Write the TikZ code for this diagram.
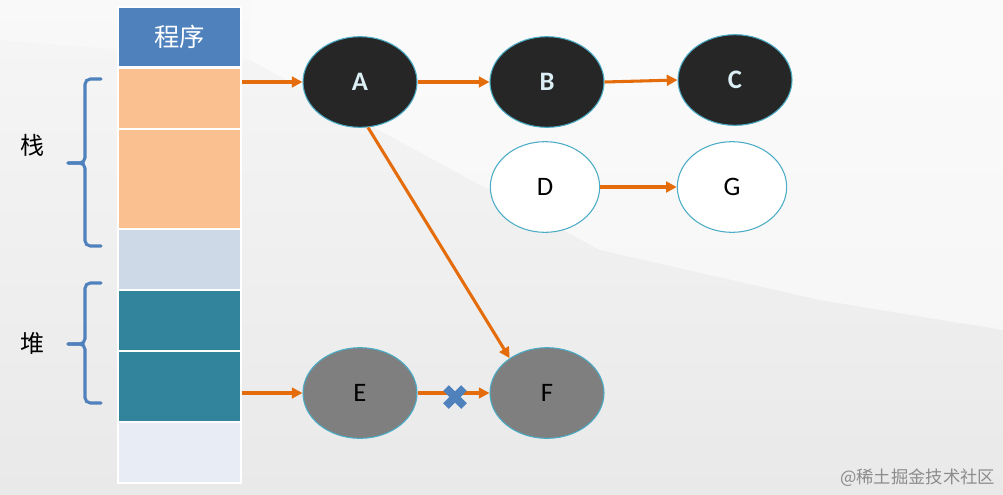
\documentclass[tikz,border=0pt]{standalone}
\usepackage{fontspec}
\setmainfont{Carlito}
\newfontfamily\cjk{Noto Sans CJK SC}
\usetikzlibrary{shapes.geometric,arrows.meta,calc}
\definecolor{progblue}{HTML}{4F81BD}
\definecolor{stackor}{HTML}{FAC090}
\definecolor{lightbl}{HTML}{CED9E7}
\definecolor{heapteal}{HTML}{31849B}
\definecolor{paleblue}{HTML}{E8ECF4}
\definecolor{arrowor}{HTML}{E46C0A}
\definecolor{edgeteal}{HTML}{4BACC6}
\definecolor{darkfill}{HTML}{262626}
\definecolor{grayfill}{HTML}{7F7F7F}
\definecolor{lighttxt}{HTML}{DCEFF5}
\definecolor{bgTop}{HTML}{F6F6F6}
\definecolor{bgBot}{HTML}{E9E9E9}
\tikzset{
  cell/.style={draw=white, line width=0.8pt, minimum width=92.25pt, inner sep=0pt, rectangle},
  obj/.style={ellipse, draw=edgeteal, line width=0.8pt, minimum width=85.5pt, minimum height=68pt, inner sep=0pt, font=\fontsize{20}{22}\selectfont},
  live/.style={obj, fill=darkfill, text=lighttxt, font=\fontsize{20}{22}\selectfont\bfseries},
  free/.style={obj, fill=white, text=black},
  dead/.style={obj, fill=grayfill, text=black},
  arr/.style={draw=arrowor, line width=2.3pt, -{Triangle[length=8pt,width=8pt]}},
  bracket/.style={draw=progblue, line width=2.3pt, rounded corners=4pt, line cap=round},
  crossline/.style={draw=progblue, line width=6pt},
  sidelabel/.style={font=\cjk\fontsize{18}{20}\selectfont, text=black}
}
\begin{document}
\begin{tikzpicture}[x=0.75pt, y=-0.75pt]
\useasboundingbox (0,0) rectangle (1003,494);
% background
\shade[top color=bgTop, bottom color=bgBot] (0,0) rectangle (1003,494);
\fill[white,opacity=0.55] (250,0) -- (1003,0) -- (1003,330) -- (820,300) -- (600,250) -- (250,60) -- cycle;
\fill[white,opacity=0.35] (0,0) -- (250,0) -- (250,60) -- (0,40) -- cycle;
% stack column
\node[cell, fill=progblue, minimum height=45pt, text=white, font=\cjk\fontsize{19}{22}\selectfont] (p) at (179.5,37) {程序};
\node[cell, fill=stackor, minimum height=45.75pt] (s1) at (179.5,98.5) {};
\node[cell, fill=stackor, minimum height=75pt] (s2) at (179.5,179) {};
\node[cell, fill=lightbl, minimum height=45.75pt] (s3) at (179.5,259.5) {};
\node[cell, fill=heapteal, minimum height=45.75pt] (h1) at (179.5,320.5) {};
\node[cell, fill=heapteal, minimum height=53.25pt] (h2) at (179.5,386.5) {};
\node[cell, fill=paleblue, minimum height=45.75pt] (h3) at (179.5,452.5) {};
% braces
\draw[bracket] (101,79) -- (85,79) -- (85,163) -- (68,163);
\draw[bracket] (68,163) -- (85,163) -- (85,246) -- (101,246);
\draw[bracket] (101,283) -- (85,283) -- (85,344) -- (68,344);
\draw[bracket] (68,344) -- (85,344) -- (85,403) -- (101,403);
\node[sidelabel] (zhan) at (33,145) {栈};
\node[sidelabel] (dui) at (33,343) {堆};
% objects
\node[live] (A) at (360,82) {A};
\node[live] (B) at (547,82) {B};
\node[live] (C) at (735,80) {C};
\node[free, minimum width=82pt] (D) at (545,187) {D};
\node[free, minimum width=82pt] (G) at (732,187) {G};
\node[dead] (E) at (360,393) {E};
\node[dead] (F) at (547,393) {F};
% arrows
\draw[arr] (s1.east |- A) -- (A);
\draw[arr] (h2.east |- E) -- (E);
\draw[arr] (A) -- (B);
\draw[arr] (B.east) -- (C.west);
\draw[arr] (D) -- (G);
\draw[arr] (A.-80) -- (F.137);
\draw[arr] (E) -- (F);
% cross
\coordinate (X) at (455,397);
\draw[crossline] ($(X)+(-9,-9)$) -- ($(X)+(9,9)$);
\draw[crossline] ($(X)+(-9,9)$) -- ($(X)+(9,-9)$);
% watermark
\node[anchor=east, text=black!45, font=\cjk\fontsize{13}{15}\selectfont] (wm) at (1000,478) {@稀土掘金技术社区};
\end{tikzpicture}
\end{document}
